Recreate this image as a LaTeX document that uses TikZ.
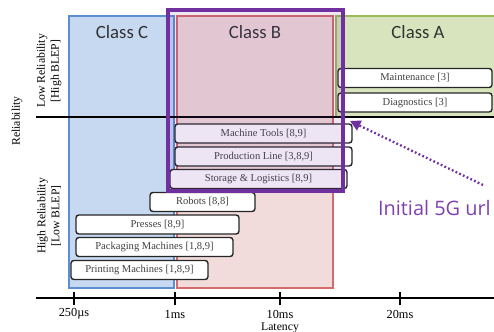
\documentclass[tikz,border=0pt]{standalone}
\usepackage{fontspec}
\setmainfont{Liberation Serif}
\newfontfamily\clsfont{Carlito}
\newfontfamily\notefont{Open Sans}
\usetikzlibrary{arrows.meta}
\definecolor{cblue}{HTML}{C6D9F1}
\definecolor{cblueline}{HTML}{5B8FD0}
\definecolor{cpink}{HTML}{F2DCDB}
\definecolor{cpinkline}{HTML}{D66B6B}
\definecolor{cgreen}{HTML}{D7E4BD}
\definecolor{cgreenline}{HTML}{9BBB59}
\definecolor{cpurple}{HTML}{7030A0}
\definecolor{ctext}{HTML}{8040B0}
\tikzset{
  usecase/.style={draw=black!85, line width=1.2pt, rounded corners=2.5pt, fill=white,
    inner sep=0pt, minimum height=0.57cm, text=black!75, font=\fontsize{9}{10}\selectfont},
  classlabel/.style={font=\clsfont\fontsize{16}{18}\selectfont, text=black!80},
  axislabel/.style={font=\fontsize{10}{12}\selectfont, align=center, rotate=90},
}

\begin{document}
\begin{tikzpicture}[x=0.03cm, y=-0.03cm]
	\useasboundingbox (0,0) rectangle (494,332);
	\draw[fill=cblue, draw=cblueline, line width=1pt] (69,16) rectangle (174,288);
	\draw[fill=cpink, draw=cpinkline, line width=1pt] (177,16) rectangle (333,288);
	\draw[fill=cgreen, draw=cgreenline, line width=1pt] (336,16) rectangle (497,117);
	\node[classlabel] (classC) at (122,32) {Class C};
	\node[classlabel] (classB) at (255,32) {Class B};
	\node[classlabel] (classA) at (418,32) {Class A};
	\coordinate (split0) at (36,117);
	\coordinate (split1) at (494,117);
	\draw[line width=1.5pt] (split0) -- (split1);
	\node[usecase, minimum width=4.62cm] (maint) at (415,78) {Maintenance [3]};
	\node[usecase, minimum width=4.62cm] (diag) at (415,102.5) {Diagnostics [3]};
	\node[usecase, minimum width=5.31cm] (tools) at (263.5,133.5) {Machine Tools [8,9]};
	\node[usecase, minimum width=5.31cm] (line) at (263.5,156.5) {Production Line [3,8,9]};
	\node[usecase, minimum width=5.31cm] (store) at (258.5,179) {Storage \& Logistics [8,9]};
	\node[usecase, minimum width=3.15cm] (robots) at (202.5,202) {Robots [8,8]};
	\node[usecase, minimum width=4.89cm] (presses) at (157.5,224.5) {Presses [8,9]};
	\node[usecase, minimum width=4.71cm] (pack) at (154.5,247) {Packaging Machines [1,8,9]};
	\node[usecase, minimum width=4.11cm] (print) at (139.5,270) {Printing Machines [1,8,9]};
	\draw[draw=cpurple, line width=2.6pt, fill=cpurple, fill opacity=0.12] (168,10) rectangle (343,191);
	\coordinate (ax0) at (36,298);
	\coordinate (ax1) at (494,298);
	\draw[line width=1.5pt] (ax0) -- (ax1);
	\foreach \x/\t [count=\i] in {74/250µs, 175/1ms, 280/10ms, 400/20ms} {
		\draw[line width=1.5pt] (\x,292) -- (\x,305);
		\node[font=\fontsize{10.5}{12}\selectfont] (tick\i) at (\x,314) {\t};
	}
	\node[font=\fontsize{10}{12}\selectfont] (latency) at (280,328) {Latency};
	\node[axislabel] (rel) at (17,121) {Reliability};
	\node[axislabel] (low) at (49,71) {Low Reliability\\{}[High BLEP]};
	\node[axislabel] (high) at (49,216) {High Reliability\\{}[Low BLEP]};
	\node[anchor=west, text=ctext, font=\notefont\fontsize{17}{20}\selectfont] (urllc) at (374,208) {Initial 5G url};
	\coordinate (tail) at (483,185);
	\coordinate (head) at (350,121);
	\draw[cpurple, line width=2pt, dash pattern=on 1.5pt off 2pt,
		-{Triangle[length=9pt,width=9pt]}] (tail) -- (head);
\end{tikzpicture}
\end{document}
